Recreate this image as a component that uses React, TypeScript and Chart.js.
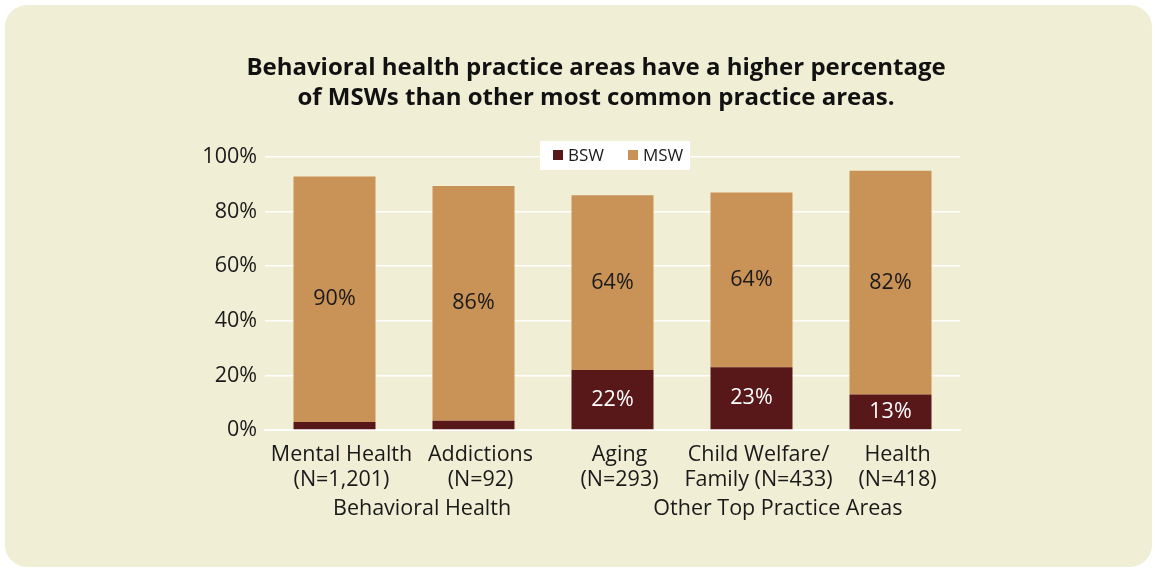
import React, { useEffect, useRef } from "react";
import { Chart, registerables } from "chart.js";

Chart.register(...registerables);

const categories: string[][] = [
  ["Mental Health", "(N=1,201)"],
  ["Addictions", "(N=92)"],
  ["Aging", "(N=293)"],
  ["Child Welfare/", "Family (N=433)"],
  ["Health", "(N=418)"],
];
const bswValues = [2.9, 3.4, 22, 23, 13];
const mswValues = [90, 86, 64, 64, 82];
const seriesNames = ["BSW", "MSW"];
const groupNames = ["Behavioral Health", "Other Top Practice Areas"];
const groupStart = [0, 2];
const groupEnd = [1, 4];
const titleLines = [
  "Behavioral health practice areas have a higher percentage",
  "of MSWs than other most common practice areas.",
];

const BG = "#f0eed5";
const BSW_COLOR = "#58181a";
const MSW_COLOR = "#c99256";
const TEXT = "#1a1a1a";
const FONT = "'Open Sans', 'Noto Sans', sans-serif";
const FS = 21.5;

const panelPlugin = {
  id: "panel",
  beforeDraw(chart: any) {
    const ctx = chart.ctx;
    ctx.save();
    ctx.fillStyle = BG;
    ctx.beginPath();
    (ctx as any).roundRect(5, 5, 1147, 562, 22);
    ctx.fill();
    ctx.restore();
  },
};

const titlePlugin = {
  id: "customTitle",
  afterDraw(chart: any) {
    const ctx = chart.ctx;
    ctx.save();
    ctx.fillStyle = "#111";
    ctx.font = `bold 24px ${FONT}`;
    ctx.textAlign = "center";
    ctx.textBaseline = "middle";
    titleLines.forEach((t, i) => ctx.fillText(t, 596, 68 + i * 30));
    ctx.restore();
  },
};

const legendPlugin = {
  id: "customLegend",
  afterDraw(chart: any) {
    const ctx = chart.ctx;
    ctx.save();
    ctx.fillStyle = "#ffffff";
    ctx.fillRect(540, 141, 150, 29);
    ctx.font = `17px ${FONT}`;
    ctx.textBaseline = "middle";
    ctx.textAlign = "left";
    let x = 553;
    chart.data.datasets.forEach((ds: any) => {
      ctx.fillStyle = ds.backgroundColor;
      ctx.fillRect(x, 150, 10, 10);
      ctx.fillStyle = TEXT;
      ctx.fillText(ds.label, x + 15, 156);
      x += 75;
    });
    ctx.restore();
  },
};

const valueLabelPlugin = {
  id: "valueLabels",
  afterDatasetsDraw(chart: any) {
    const ctx = chart.ctx;
    ctx.save();
    ctx.font = `${FS}px ${FONT}`;
    ctx.textAlign = "center";
    ctx.textBaseline = "middle";
    chart.data.datasets.forEach((ds: any, di: number) => {
      const meta = chart.getDatasetMeta(di);
      meta.data.forEach((el: any, i: number) => {
        const v = ds.data[i];
        if (v < 10) return;
        ctx.fillStyle = di === 0 ? "#ffffff" : TEXT;
        ctx.fillText(`${Math.round(v)}%`, el.x, (el.y + el.base) / 2);
      });
    });
    ctx.restore();
  },
};

const groupLabelPlugin = {
  id: "groupLabels",
  afterDraw(chart: any) {
    const ctx = chart.ctx;
    const xs = chart.scales.x;
    const cw = xs.getPixelForValue(1) - xs.getPixelForValue(0);
    ctx.save();
    ctx.font = `${FS}px ${FONT}`;
    ctx.fillStyle = TEXT;
    ctx.textAlign = "center";
    ctx.textBaseline = "middle";
    const offs = [0.13, 0.19];
    groupNames.forEach((g, i) => {
      const cx =
        (xs.getPixelForValue(groupStart[i]) + xs.getPixelForValue(groupEnd[i])) / 2 + cw * offs[i];
      ctx.fillText(g, cx, 509);
    });
    ctx.restore();
  },
};

export default function App() {
  const ref = useRef<HTMLCanvasElement>(null);
  useEffect(() => {
    document.body.style.margin = "0";
    const chart = new Chart(ref.current!, {
      type: "bar",
      data: {
        labels: categories,
        datasets: [
          { label: seriesNames[0], data: bswValues, backgroundColor: BSW_COLOR },
          { label: seriesNames[1], data: mswValues, backgroundColor: MSW_COLOR },
        ],
      },
      options: {
        responsive: false,
        animation: false,
        layout: { padding: { left: 190, right: 195, top: 157, bottom: 0 } },
        datasets: { bar: { barPercentage: 0.59, categoryPercentage: 1 } } as any,
        plugins: {
          legend: { display: false },
          title: { display: false },
          tooltip: { enabled: false },
        },
        scales: {
          x: {
            stacked: true,
            grid: { display: false },
            border: { color: "#ffffff", width: 2 },
            ticks: {
              color: TEXT,
              font: { family: FONT, size: FS, lineHeight: 1.17 },
              padding: 4,
              labelOffset: 7,
              maxRotation: 0,
              autoSkip: false,
            },
            afterFit(scale: any) {
              scale.height = 139;
            },
          },
          y: {
            stacked: true,
            min: 0,
            max: 100,
            border: { display: false },
            grid: { color: "rgba(255,255,255,0.95)", lineWidth: 1.5, drawTicks: false },
            ticks: {
              stepSize: 20,
              color: TEXT,
              font: { family: FONT, size: FS },
              padding: 8,
              callback: (v: any) => `${v}%`,
            },
            afterFit(scale: any) {
              scale.width = 75;
            },
          },
        },
      },
      plugins: [panelPlugin, titlePlugin, legendPlugin, valueLabelPlugin, groupLabelPlugin],
    });
    return () => chart.destroy();
  }, []);
  return <canvas ref={ref} width={1155} height={569} style={{ display: "block" }} />;
}
